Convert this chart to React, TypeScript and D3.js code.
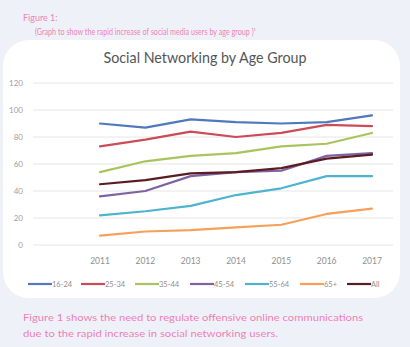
import React from "react";
import * as d3 from "d3";

const years = ["2011", "2012", "2013", "2014", "2015", "2016", "2017"];
const yTicks = [0, 20, 40, 60, 80, 100, 120];
const seriesNames = ["16-24", "25-34", "35-44", "45-54", "55-64", "65+", "All"];
const s1624 = [90, 87, 93, 91, 90, 91, 96];
const s2534 = [73, 78, 84, 80, 83, 89, 88];
const s3544 = [54, 62, 66, 68, 73, 75, 83];
const s4554 = [36, 40, 51, 54, 55, 66, 68];
const s5564 = [22, 25, 29, 37, 42, 51, 51];
const s65 = [7, 10, 11, 13, 15, 23, 27];
const sAll = [45, 48, 53, 54, 57, 64, 67];
const seriesValues = [s1624, s2534, s3544, s4554, s5564, s65, sAll];
const colors = ["#4f78bd", "#cc4b58", "#a9c45e", "#7e62a4", "#4db3cf", "#f6a05a", "#5a1c22"];
const legendX = [28, 81, 135, 190, 245, 300, 347];

export default function App() {
  const W = 410, H = 347;
  const x = d3.scalePoint<string>().domain(years).range([100, 372]);
  const y = d3.scaleLinear().domain([0, 120]).range([245, 83]);
  const line = d3.line<number>().x((_, i) => x(years[i])!).y((d) => y(d));
  const font = "Lato, 'Open Sans', sans-serif";
  const pink = "#ef7fb6";
  return (
    <svg width={W} height={H} style={{ position: "absolute", left: 0, top: 0 }} fontFamily={font}>
      <rect x={0} y={0} width={W} height={H} fill="#eef2f8" />
      <rect x={3} y={40} width={397} height={258} rx={26} fill="#ffffff" />
      <text x={23} y={21} fontSize={9} fill={pink}>Figure 1:</text>
      <text x={35} y={35} fontSize={8.5} fill={pink} textLength={221} lengthAdjust="spacingAndGlyphs">
        (Graph to show the rapid increase of social media users by age group )¹
      </text>
      <text x={205} y={63} fontSize={15} fill="#555" textAnchor="middle" textLength={203} lengthAdjust="spacingAndGlyphs">
        Social Networking by Age Group
      </text>
      {yTicks.map((t) => (
        <g key={t}>
          <line x1={33} x2={393} y1={y(t)} y2={y(t)} stroke="#e6e6e6" strokeWidth={1} />
          <text x={23} y={y(t) + 3} fontSize={8} fill="#a0a0a0" textAnchor="end">{t}</text>
        </g>
      ))}
      {years.map((yr) => (
        <text key={yr} x={x(yr)} y={264} fontSize={8.5} fill="#909090" textAnchor="middle">{yr}</text>
      ))}
      {seriesValues.map((vals, i) => (
        <path key={seriesNames[i]} d={line(vals) || ""} fill="none" stroke={colors[i]} strokeWidth={2.2} strokeLinejoin="round" strokeLinecap="round" />
      ))}
      {seriesNames.map((n, i) => (
        <g key={n}>
          <line x1={legendX[i]} x2={legendX[i] + 24} y1={284} y2={284} stroke={colors[i]} strokeWidth={2.2} />
          <text x={legendX[i] + 24} y={287} fontSize={7.5} fill="#909090">{n}</text>
        </g>
      ))}
      <text x={23} y={321} fontSize={9.5} fill={pink} textLength={340} lengthAdjust="spacingAndGlyphs">
        Figure 1 shows the need to regulate offensive online communications
      </text>
      <text x={23} y={337} fontSize={9.5} fill={pink} textLength={255} lengthAdjust="spacingAndGlyphs">
        due to the rapid increase in social networking users.
      </text>
    </svg>
  );
}
